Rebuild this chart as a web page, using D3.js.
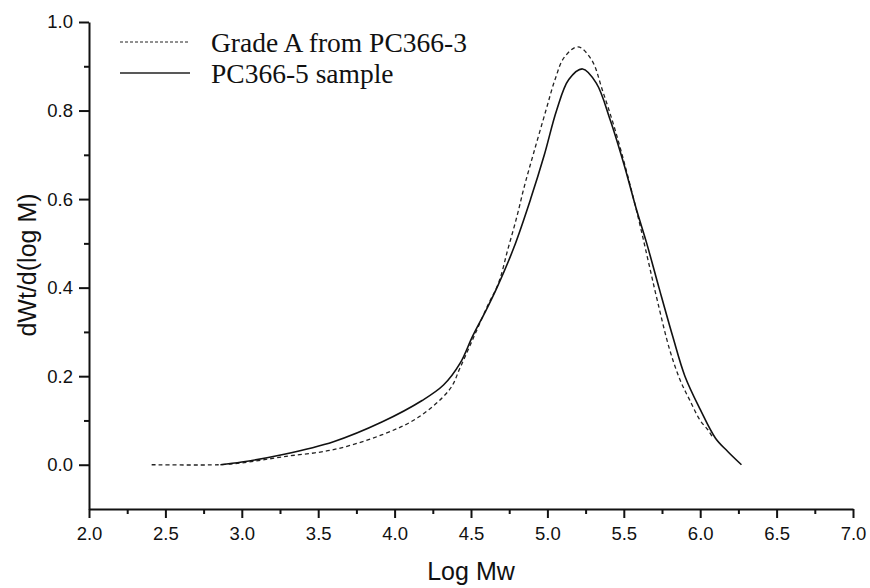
<!DOCTYPE html>
<html lang="en">
<head>
<meta charset="UTF-8" />
<title>Molecular weight distribution</title>
<script src="https://d3js.org/d3.v7.min.js"></script>
<style>
  body { margin: 0; background: #fff; }
  svg { display: block; }
  .tick text { font-family: "Liberation Sans", Arial, sans-serif; font-size: 18.5px; fill: #111; }
</style>
</head>
<body>
<svg id="chart" width="870" height="588"></svg>
<script>
// Grade A from PC366-3 (dashed)
const gradeX = [2.41, 2.85, 3.0, 3.27, 3.6, 3.92, 4.15, 4.36, 4.43, 4.52, 4.61, 4.68, 4.74, 4.80, 4.85, 4.91, 4.99, 5.05, 5.11, 5.20, 5.29, 5.36, 5.44, 5.52, 5.60, 5.66, 5.72, 5.80, 5.87, 5.93, 6.0, 6.05, 6.08];
const gradeY = [0.0, 0.0, 0.004, 0.018, 0.034, 0.068, 0.106, 0.17, 0.22, 0.29, 0.36, 0.41, 0.485, 0.56, 0.63, 0.704, 0.80, 0.87, 0.92, 0.944, 0.914, 0.846, 0.76, 0.66, 0.55, 0.46, 0.37, 0.26, 0.19, 0.147, 0.10, 0.079, 0.063];

// PC366-5 sample (solid)
const sampleX = [2.86, 3.0, 3.27, 3.6, 3.92, 4.18, 4.32, 4.43, 4.51, 4.60, 4.67, 4.78, 4.89, 4.98, 5.06, 5.14, 5.23, 5.32, 5.41, 5.50, 5.58, 5.65, 5.73, 5.82, 5.90, 6.0, 6.1, 6.18, 6.27];
const sampleY = [0.0, 0.006, 0.023, 0.052, 0.097, 0.145, 0.18, 0.23, 0.29, 0.35, 0.40, 0.49, 0.60, 0.70, 0.80, 0.87, 0.894, 0.862, 0.78, 0.68, 0.58, 0.50, 0.40, 0.29, 0.20, 0.125, 0.06, 0.03, 0.0];

const xTicks = [2.0, 2.5, 3.0, 3.5, 4.0, 4.5, 5.0, 5.5, 6.0, 6.5, 7.0];
const yTicks = [0.0, 0.2, 0.4, 0.6, 0.8, 1.0];
const legendLabels = ["Grade A from PC366-3", "PC366-5 sample"];

const svg = d3.select("#chart");
const plotLeft = 89, plotRight = 853, plotTop = 22, plotBottom = 509;

const x = d3.scaleLinear().domain([2.0, 7.0]).range([plotLeft, plotRight]);
const y = d3.scaleLinear().domain([-0.1, 1.0]).range([plotBottom, plotTop]);

// minor ticks halfway between majors
const xMinor = xTicks.slice(0, -1).map(v => v + 0.25);
const yMinor = yTicks.slice(0, -1).map(v => v + 0.1);

// x axis
const gx = svg.append("g").attr("transform", `translate(0,${plotBottom})`);
gx.call(d3.axisBottom(x).tickValues(xTicks).tickFormat(d3.format(".1f")).tickSize(9).tickSizeOuter(0).tickPadding(9));
gx.append("g").call(d3.axisBottom(x).tickValues(xMinor).tickFormat("").tickSize(5).tickSizeOuter(0))
  .select(".domain").remove();

// y axis
const gy = svg.append("g").attr("transform", `translate(${plotLeft},0)`);
gy.call(d3.axisLeft(y).tickValues(yTicks).tickFormat(d3.format(".1f")).tickSize(10).tickSizeOuter(0).tickPadding(6));
gy.append("g").call(d3.axisLeft(y).tickValues(yMinor).tickFormat("").tickSize(5).tickSizeOuter(0))
  .select(".domain").remove();

svg.selectAll(".domain").attr("stroke", "#111").attr("stroke-width", 2);
svg.selectAll(".tick line").attr("stroke", "#111").attr("stroke-width", 2);

// axis titles
svg.append("text")
  .attr("x", 471).attr("y", 580)
  .attr("text-anchor", "middle")
  .style("font-family", "'Liberation Sans', Arial, sans-serif")
  .style("font-size", "25px")
  .attr("fill", "#111")
  .text("Log Mw");

svg.append("text")
  .attr("transform", "translate(36,265) rotate(-90)")
  .attr("text-anchor", "middle")
  .style("font-family", "'Liberation Sans', Arial, sans-serif")
  .style("font-size", "25px")
  .attr("fill", "#111")
  .text("dWt/d(log M)");

// curves
const line = d3.line()
  .x(d => x(d[0]))
  .y(d => y(d[1]))
  .curve(d3.curveCatmullRom.alpha(0.5));

svg.append("path")
  .datum(d3.zip(gradeX, gradeY))
  .attr("d", line)
  .attr("fill", "none")
  .attr("stroke", "#222")
  .attr("stroke-width", 1.3)
  .attr("stroke-dasharray", "4,3");

svg.append("path")
  .datum(d3.zip(sampleX, sampleY))
  .attr("d", line)
  .attr("fill", "none")
  .attr("stroke", "#111")
  .attr("stroke-width", 1.6);

// legend
const legend = svg.append("g");
legendLabels.forEach((label, i) => {
  const ly = 42 + i * 31;
  legend.append("line")
    .attr("x1", 120).attr("x2", 190)
    .attr("y1", ly).attr("y2", ly)
    .attr("stroke", "#222")
    .attr("stroke-width", i === 0 ? 1 : 1.3)
    .attr("stroke-dasharray", i === 0 ? "3,2" : null);
  legend.append("text")
    .attr("x", 211).attr("y", ly + 10)
    .style("font-family", "'Liberation Serif', 'Times New Roman', serif")
    .style("font-size", "27.5px")
    .attr("fill", "#111")
    .text(label);
});
</script>
</body>
</html>
